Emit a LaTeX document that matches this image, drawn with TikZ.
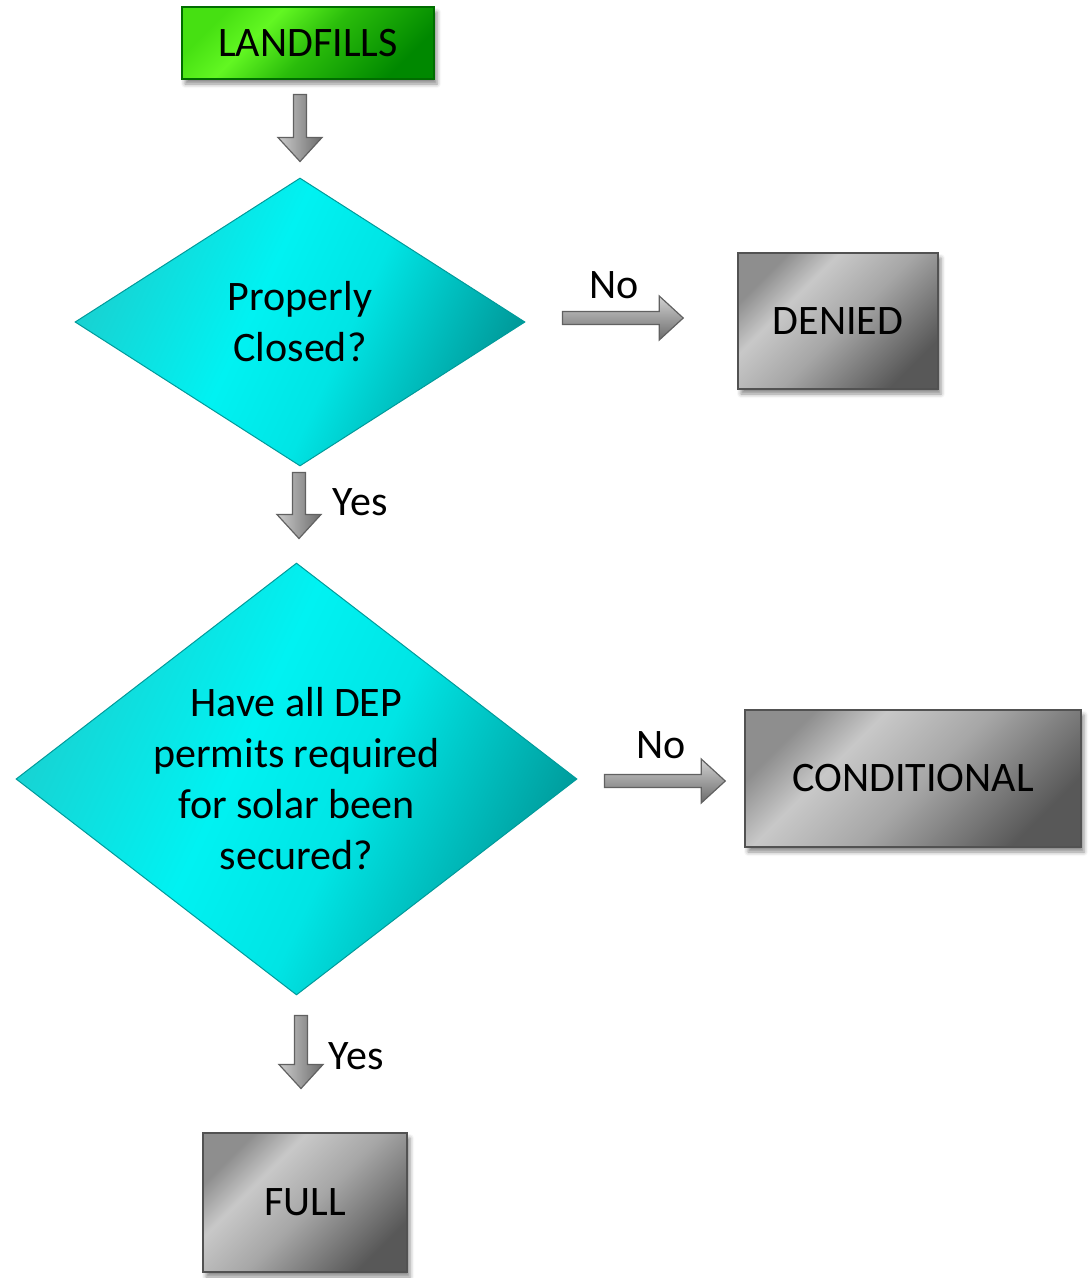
\documentclass[tikz,border=0pt]{standalone}
\usepackage{fontspec}
\setmainfont{Carlito}
\usepackage{tikz}
\usetikzlibrary{calc}
\usetikzlibrary{shapes.geometric}
\usetikzlibrary{shadows, shadows.blur}

\definecolor{metaldark}{HTML}{585858}
\definecolor{metallight}{HTML}{C8C8C8}
\definecolor{metaltop}{HTML}{8E8E8E}
\definecolor{leafdark}{HTML}{008800}
\definecolor{leaflight}{HTML}{62F722}
\definecolor{leaftop}{HTML}{46E012}
\definecolor{aquadark}{HTML}{009A9A}
\definecolor{aqualight}{HTML}{00F2F2}
\definecolor{aquaedge}{HTML}{18D2D2}

\pgfdeclareverticalshading{metal}{100bp}{color(0bp)=(metaldark); color(25bp)=(metaldark);
  color(48bp)=(metallight!70!metaldark); color(64bp)=(metallight); color(75bp)=(metaltop); color(100bp)=(metaltop)}
\pgfdeclareverticalshading{leaf}{100bp}{color(0bp)=(leafdark); color(25bp)=(leafdark);
  color(48bp)=(leafdark!40!leaftop); color(63bp)=(leaflight); color(75bp)=(leaftop); color(100bp)=(leaftop)}
\pgfdeclareverticalshading{aqua}{100bp}{color(0bp)=(aquadark); color(25bp)=(aquadark);
  color(44bp)=(aqualight!85!aquadark); color(56bp)=(aqualight); color(75bp)=(aquaedge); color(100bp)=(aquaedge)}

% fat block arrow from #2 to #3
\newcommand{\blockarrow}[3][]{%
  \coordinate (ba-h) at ($(#3)!24pt!(#2)$);
  \draw[fatarrow, #1] ($(#2)!6.5pt!90:(#3)$) -- ($(ba-h)!6.5pt!90:(#3)$) -- ($(ba-h)!22pt!90:(#3)$)
    -- (#3) -- ($(ba-h)!22pt!-90:(#3)$) -- ($(ba-h)!6.5pt!-90:(#3)$) -- ($(#2)!6.5pt!-90:(#3)$) -- cycle;
}

\begin{document}
\begin{tikzpicture}[x=1pt, y=-1pt, font=\fontsize{42}{51}\selectfont,
    start/.style={draw=leafdark!80!black, line width=1.5pt, shading=leaf, shading angle=45,
      minimum width=252pt, minimum height=72pt, inner sep=0pt,
      blur shadow={shadow xshift=3pt, shadow yshift=-5pt, shadow opacity=45, shadow blur radius=4pt}},
    outcome/.style={draw=black!68, line width=1.5pt, shading=metal, shading angle=45, inner sep=0pt,
      blur shadow={shadow xshift=3pt, shadow yshift=-5pt, shadow opacity=45, shadow blur radius=4pt}},
    decision/.style={diamond, draw=aquadark, line width=1pt, shading=aqua, shading angle=65,
      align=center, inner sep=0pt},
    fatarrow/.style={draw=black!62, line width=1.2pt},
    down/.style={left color=black!20, right color=black!58},
    across/.style={top color=black!18, bottom color=black!58},
    answer/.style={inner sep=0pt}]
    \useasboundingbox (0,0) rectangle (1091,1278);

    \node[start] (land) at (308,43) {LANDFILLS};
    \node[decision, aspect=1.56, minimum width=450pt, minimum height=288pt] (closed) at (300,322) {Properly\\Closed?};
    \node[outcome, minimum width=200pt, minimum height=136pt] (denied) at (838,321) {DENIED};
    \node[decision, aspect=1.3, minimum width=561pt, minimum height=432pt] (permits) at (296.5,779)
      {Have all DEP\\permits required\\for solar been\\secured?};
    \node[outcome, minimum width=336pt, minimum height=137pt] (cond) at (913,778.5) {CONDITIONAL};
    \node[outcome, minimum width=204pt, minimum height=139pt] (full) at (305,1202.5) {FULL};

    % arrows between the nodes
    \coordinate (a1s) at ($(closed.north)+(0,-83)$);
    \coordinate (a1t) at ($(closed.north)+(0,-16)$);
    \blockarrow[down]{a1s}{a1t}
    \coordinate (a2s) at ($(closed.south)+(-1,6)$);
    \coordinate (a2t) at ($(closed.south)+(-1,72)$);
    \blockarrow[down]{a2s}{a2t}
    \coordinate (a3s) at ($(closed.east)+(37,-4)$);
    \coordinate (a3t) at ($(denied.west)+(-54,-3)$);
    \blockarrow[across]{a3s}{a3t}
    \coordinate (a4s) at ($(permits.south)+(4.5,20)$);
    \coordinate (a4t) at ($(permits.south)+(4.5,93)$);
    \blockarrow[down]{a4s}{a4t}
    \coordinate (a5s) at ($(permits.east)+(27,2)$);
    \coordinate (a5t) at ($(cond.west)+(-19,2.5)$);
    \blockarrow[across]{a5s}{a5t}

    \node[answer] (yes1) at ($(a2s)!0.5!(a2t)+(61,-3)$) {Yes};
    \node[answer] (no1) at ($(a3s)!0.5!(a3t)+(-9,-33)$) {No};
    \node[answer] (yes2) at ($(a4s)!0.5!(a4t)+(55,4)$) {Yes};
    \node[answer] (no2) at ($(a5s)!0.5!(a5t)+(-4,-36)$) {No};
\end{tikzpicture}
\end{document}
